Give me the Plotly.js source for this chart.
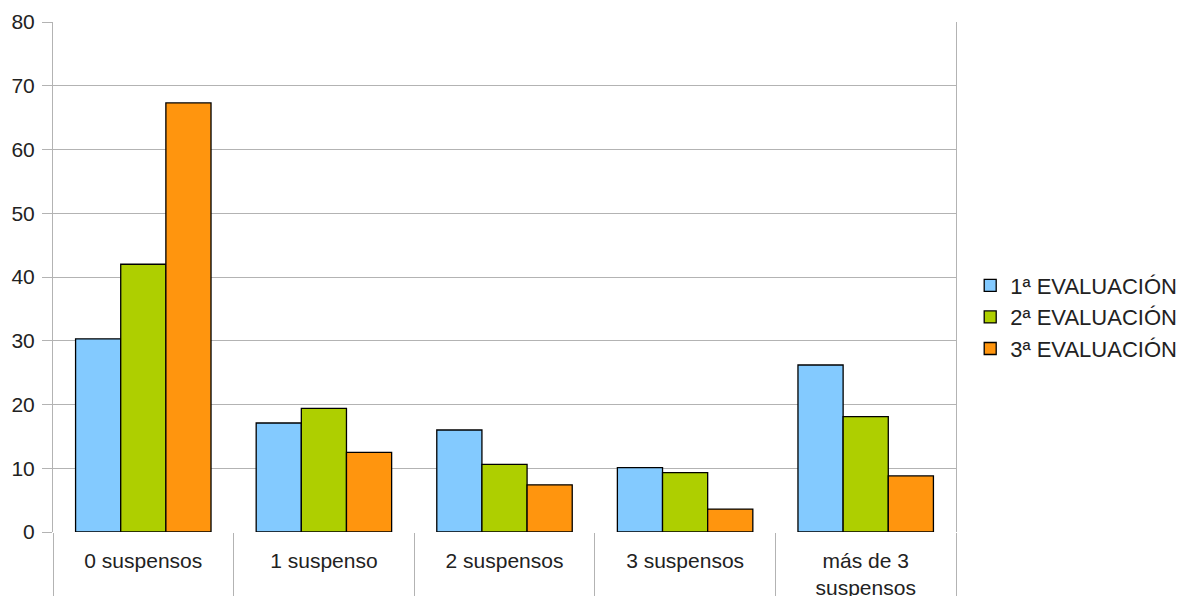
<!DOCTYPE html>
<html>
<head>
<meta charset="utf-8">
<script src="https://cdn.plot.ly/plotly-3.0.1.min.js"></script>
<style>html,body{margin:0;padding:0;background:#fff;}#chart{width:1178px;height:596px;}</style>
</head>
<body>
<div id="chart"></div>
<script>
const categories = ["0 suspensos", "1 suspenso", "2 suspensos", "3 suspensos", "más de 3<br>suspensos"];
const seriesNames = ["1ª EVALUACIÓN", "2ª EVALUACIÓN", "3ª EVALUACIÓN"];
const eval1 = [30.3, 17.1, 16.0, 10.1, 26.2];
const eval2 = [42.0, 19.4, 10.6, 9.3, 18.1];
const eval3 = [67.3, 12.5, 7.4, 3.6, 8.8];
const yTicks = [0, 10, 20, 30, 40, 50, 60, 70, 80];

const colors = ["#83caff", "#aecf00", "#ff950e"];
const allValues = [eval1, eval2, eval3];

const traces = allValues.map((vals, i) => ({
  type: "bar",
  name: seriesNames[i],
  x: categories,
  y: vals,
  marker: {color: colors[i], line: {color: "#000000", width: 1.3}},
  hoverinfo: "x+y+name"
}));

const font = {family: "Liberation Sans, Arial, sans-serif", size: 21, color: "#222222"};

const layout = {
  width: 1178,
  height: 596,
  margin: {l: 53, r: 222, t: 22, b: 64, pad: 0, autoexpand: false},
  paper_bgcolor: "#ffffff",
  plot_bgcolor: "#ffffff",
  font: font,
  barmode: "group",
  bargap: 0.25,
  bargroupgap: 0,
  showlegend: true,
  legend: {
    x: 0.8236, xanchor: "left", xref: "container",
    y: 0.4216, yanchor: "middle",
    font: {family: font.family, size: 22, color: "#222222"},
    itemwidth: 30,
    tracegroupgap: 0,
    bgcolor: "rgba(0,0,0,0)"
  },
  xaxis: {
    type: "category",
    tickson: "boundaries",
    ticks: "outside",
    ticklen: 64,
    tickcolor: "#b3b3b3",
    tickwidth: 1,
    showgrid: false,
    showline: false,
    zeroline: false,
    tickfont: {family: font.family, size: 21, color: "#222222"},
    ticklabelstandoff: 14,
    automargin: false
  },
  yaxis: {
    range: [0, 80],
    tickvals: yTicks,
    ticktext: yTicks.map(String),
    ticks: "outside",
    ticklen: 10,
    tickcolor: "#b3b3b3",
    showgrid: true,
    gridcolor: "#b3b3b3",
    gridwidth: 1,
    zeroline: false,
    showline: true,
    mirror: true,
    linecolor: "#b3b3b3",
    linewidth: 1,
    tickfont: {family: font.family, size: 21, color: "#222222"},
    ticklabelstandoff: 3,
    automargin: false
  }
};

Plotly.newPlot("chart", traces, layout, {displayModeBar: false, staticPlot: true});
</script>
</body>
</html>
